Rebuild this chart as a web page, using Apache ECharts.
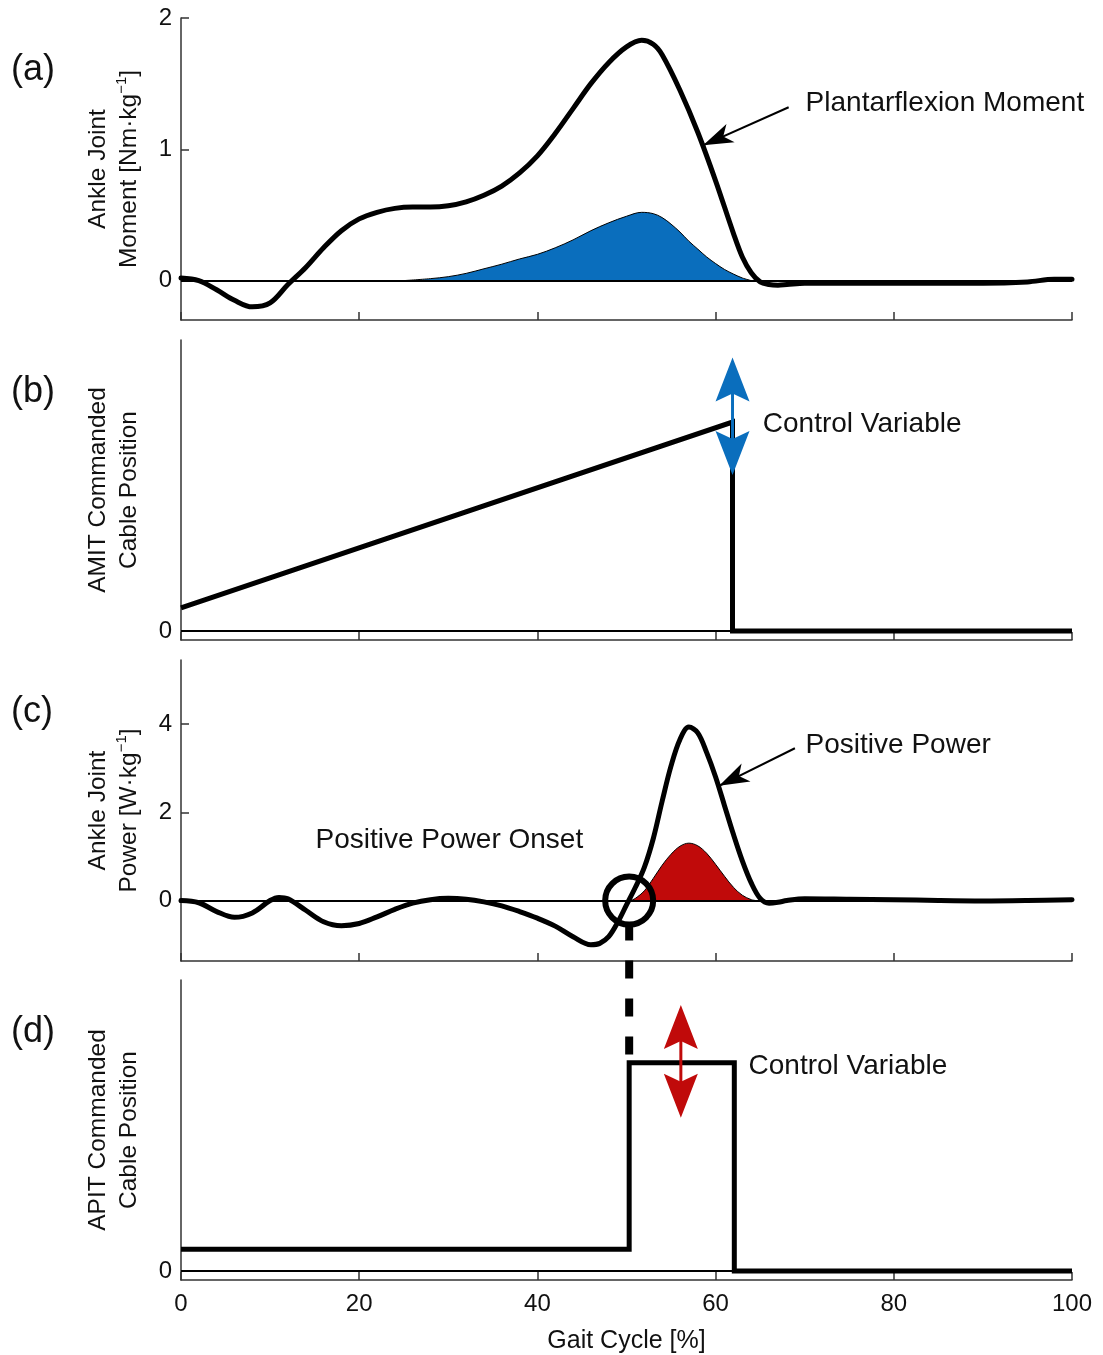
<!DOCTYPE html>
<html><head><meta charset="utf-8">
<script src="https://cdn.jsdelivr.net/npm/echarts@6/dist/echarts.min.js"></script>
<style>html,body{margin:0;padding:0;background:#fff}#c{width:1103px;height:1355px}</style>
</head><body><div id="c"></div>
<script>
// ---------- data ----------
const xTickLabels = [0, 20, 40, 60, 80, 100];
const yTicksA = [0, 1, 2];
const yTicksB = [0];
const yTicksC = [0, 2, 4];
const yTicksD = [0];

const momentPct = [0,2,4,6,8,10,12,14,16,18,20,22,24,26,28,30,32,34,36,38,40,42,44,46,48,50,51.7,53,54,56,58,60,62,63,64,65,66,67,68,70,75,80,85,90,95,98,100];
const momentVal = [0.02,0,-0.07,-0.15,-0.2,-0.17,-0.03,0.1,0.25,0.38,0.47,0.52,0.55,0.56,0.56,0.57,0.6,0.65,0.72,0.82,0.95,1.12,1.31,1.5,1.66,1.78,1.83,1.8,1.72,1.45,1.13,0.76,0.36,0.18,0.06,-0.01,-0.03,-0.035,-0.03,-0.02,-0.02,-0.02,-0.02,-0.02,-0.01,0.01,0.01];

const fillAPct = [25,28,30,32,34,36,38,40,42,44,46,48,50,51.7,53,54,55,56,57,58,59,60,61,62,63,64];
const fillAVal = [0,0.015,0.03,0.055,0.09,0.125,0.165,0.2,0.25,0.31,0.38,0.44,0.49,0.52,0.51,0.48,0.43,0.37,0.3,0.24,0.18,0.13,0.085,0.05,0.02,0];

const amitPct = [0, 61.9, 61.9, 100];
const amitVal = [0.079, 0.718, 0, 0];

const powerPct = [0,2,4,6,8,10,11,12,14,16,18,20,22,24,26,28,30,32,34,36,38,40,42,44,46,47,48,49,50,51,52,53,54,55,56,57,58,59,60,61,62,63,64,65,66,67,68,70,75,80,85,90,95,100];
const powerVal = [0,-0.05,-0.25,-0.38,-0.28,0.0,0.07,0.04,-0.22,-0.48,-0.57,-0.52,-0.37,-0.2,-0.06,0.02,0.05,0.03,-0.03,-0.12,-0.25,-0.4,-0.58,-0.82,-1.0,-0.97,-0.82,-0.5,-0.1,0.3,0.75,1.4,2.25,3.05,3.65,3.93,3.8,3.35,2.8,2.15,1.5,0.9,0.4,0.05,-0.06,-0.04,0.0,0.04,0.03,0.02,0.0,-0.01,0.0,0.02];

const fillCPct = [50.5,51,52,53,54,55,56,57,58,59,60,61,62,63,64,64.5];
const fillCVal = [0,0.05,0.22,0.5,0.8,1.05,1.23,1.3,1.24,1.07,0.82,0.55,0.3,0.12,0.02,0];

const apitPct = [0, 50.3, 50.3, 62.1, 62.1, 100];
const apitVal = [0.075, 0.075, 0.716, 0.716, 0, 0];

const panelLabels = ['(a)', '(b)', '(c)', '(d)'];
const yNames = [
  '{t|Ankle Joint}\n{t|Moment [Nm·kg}{s|−1}{t|]}',
  '{t|AMIT Commanded}\n{t|Cable Position}',
  '{t|Ankle Joint}\n{t|Power [W·kg}{s|−1}{t|]}',
  '{t|APIT Commanded}\n{t|Cable Position}'
];
const xName = 'Gait Cycle [%]';
const annA = {text: 'Plantarflexion Moment', at: [70.1, 1.35], tail: [68.2, 1.32], head: [58.6, 1.03]};
const annB = {text: 'Control Variable', at: [65.3, 0.71], arrowX: 61.9, top: 0.94, bottom: 0.536};
const annC = {text: 'Positive Power', at: [70.1, 3.52], tail: [68.9, 3.45], head: [60.4, 2.6]};
const annOnset = {text: 'Positive Power Onset', at: [15.1, 1.36], circle: [50.3, 0]};
const annD = {text: 'Control Variable', at: [63.7, 0.705], arrowX: 56.1, top: 0.914, bottom: 0.527};

// ---------- layout ----------
const zip = (a, b) => a.map((v, i) => [v, b[i]]);
const FONT = '"Liberation Sans", Arial, sans-serif';
const TXT = '#111';
const AX = '#333';
const gridTops = [18, 340, 660, 980];
const gridHeights = [302, 300, 301, 301];
const yRanges = [[-0.3, 2], [-0.031, 1], [-1.37, 5.45], [-0.031, 1]];
const yTicks = [yTicksA, yTicksB, yTicksC, yTicksD];

const grids = gridTops.map((t, i) => ({left: 181, right: 31, top: t, height: gridHeights[i]}));
const xAxes = gridTops.map((t, i) => ({
  type: 'value', gridIndex: i, min: 0, max: 100, interval: 20,
  axisLine: {show: true, onZero: false, lineStyle: {color: AX, width: 1.5}},
  axisTick: {show: true, inside: true, length: 8, lineStyle: {color: AX, width: 1.5}, customValues: xTickLabels},
  axisLabel: {show: i === 3, fontSize: 24, color: TXT, fontFamily: FONT, margin: 12, customValues: xTickLabels},
  splitLine: {show: false},
  name: i === 3 ? xName : '', nameLocation: 'middle', nameGap: 49,
  nameTextStyle: {fontSize: 25, color: TXT, fontFamily: FONT}
}));
const yAxes = gridTops.map((t, i) => ({
  type: 'value', gridIndex: i, min: yRanges[i][0], max: yRanges[i][1],
  axisLine: {show: true, onZero: false, lineStyle: {color: AX, width: 1.5}},
  axisTick: {show: true, inside: true, length: 8, lineStyle: {color: AX, width: 1.5}, customValues: yTicks[i]},
  axisLabel: {show: true, fontSize: 24, color: TXT, fontFamily: FONT, margin: 9, customValues: yTicks[i]},
  splitLine: {show: false},
  name: yNames[i], nameLocation: 'middle', nameGap: 36, nameRotate: 90,
  nameTextStyle: {
    color: TXT, fontFamily: FONT, lineHeight: 31, align: 'center',
    rich: {t: {fontSize: 24.5, color: TXT, fontFamily: FONT, lineHeight: 31},
           s: {fontSize: 15, color: TXT, fontFamily: FONT, lineHeight: 31, verticalAlign: 'top', padding: [0, 0, 14, 0]}}
  }
}));

const zeroLine = {silent: true, symbol: 'none', label: {show: false},
  lineStyle: {color: '#000', width: 2, type: 'solid'}, data: [{yAxis: 0}], animation: false};
const thick = {color: '#000', width: 5, cap: 'round', join: 'round'};
const SM = 0.35;

const series = [
  {type: 'line', xAxisIndex: 0, yAxisIndex: 0, data: zip(fillAPct, fillAVal), symbol: 'none', smooth: SM,
   lineStyle: {color: '#000', width: 1}, areaStyle: {color: '#0A6EBD', opacity: 1}, markLine: zeroLine, z: 2},
  {type: 'line', xAxisIndex: 0, yAxisIndex: 0, data: zip(momentPct, momentVal), symbol: 'none', smooth: SM,
   lineStyle: thick, z: 3},
  {type: 'line', xAxisIndex: 1, yAxisIndex: 1, data: zip(amitPct, amitVal), symbol: 'none',
   lineStyle: Object.assign({}, thick, {cap: 'butt', join: 'miter'}), markLine: zeroLine, z: 3},
  {type: 'line', xAxisIndex: 2, yAxisIndex: 2, data: zip(fillCPct, fillCVal), symbol: 'none', smooth: SM,
   lineStyle: {color: '#000', width: 1}, areaStyle: {color: '#C00A0A', opacity: 1}, markLine: zeroLine, z: 2},
  {type: 'line', xAxisIndex: 2, yAxisIndex: 2, data: zip(powerPct, powerVal), symbol: 'none', smooth: SM,
   lineStyle: thick, z: 3},
  {type: 'line', xAxisIndex: 3, yAxisIndex: 3, data: zip(apitPct, apitVal), symbol: 'none',
   lineStyle: Object.assign({}, thick, {cap: 'butt', join: 'miter'}), markLine: zeroLine, z: 3}
];

const chart = echarts.init(document.getElementById('c'), null, {renderer: 'canvas'});
chart.setOption({animation: false, backgroundColor: '#fff', grid: grids, xAxis: xAxes, yAxis: yAxes, series: series});

// ---------- annotations (positions from the axes' scales) ----------
const px = (i, p) => chart.convertToPixel({xAxisIndex: i, yAxisIndex: i}, p);
function head(tip, from, L, W, notch) {
  const dx = tip[0] - from[0], dy = tip[1] - from[1];
  const len = Math.hypot(dx, dy), ux = dx / len, uy = dy / len, nx = -uy, ny = ux;
  return [tip, [tip[0] - L * ux + W * nx, tip[1] - L * uy + W * ny],
          [tip[0] - (L - notch) * ux, tip[1] - (L - notch) * uy],
          [tip[0] - L * ux - W * nx, tip[1] - L * uy - W * ny]];
}
function singleArrow(i, a) {
  const t = px(i, a.tail), h = px(i, a.head);
  return [
    {type: 'polyline', z: 50, shape: {points: [t, h]}, style: {stroke: '#000', lineWidth: 2, fill: null}},
    {type: 'polygon', z: 51, shape: {points: head(h, t, 30, 10, 8)}, style: {fill: '#000'}}
  ];
}
function doubleArrow(i, a, color) {
  const t = px(i, [a.arrowX, a.top]), b = px(i, [a.arrowX, a.bottom]);
  return [
    {type: 'line', z: 50, shape: {x1: t[0], y1: t[1] + 20, x2: b[0], y2: b[1] - 20}, style: {stroke: color, lineWidth: 3}},
    {type: 'polygon', z: 51, shape: {points: head(t, b, 44, 17, 8)}, style: {fill: color}},
    {type: 'polygon', z: 51, shape: {points: head(b, t, 44, 17, 8)}, style: {fill: color}}
  ];
}
function label(i, a) {
  const p = px(i, a.at);
  return {type: 'text', z: 52, x: p[0], y: p[1],
    style: {text: a.text, fontSize: 28, fontFamily: FONT, fill: TXT, align: 'left', verticalAlign: 'middle'}};
}
const g = [];
panelLabels.forEach((t, i) => {
  const p = px(i, [0, yRanges[i][1]]);
  g.push({type: 'text', z: 52, x: 11, y: p[1] + 52,
    style: {text: t, fontSize: 36, fontFamily: FONT, fill: TXT, align: 'left', verticalAlign: 'middle'}});
});
g.push(label(0, annA), ...singleArrow(0, annA));
g.push(label(1, annB), ...doubleArrow(1, annB, '#0A6EBD'));
g.push(label(2, annC), ...singleArrow(2, annC));
g.push(label(2, annOnset));
const cc = px(2, annOnset.circle);
g.push({type: 'circle', z: 53, shape: {cx: cc[0], cy: cc[1], r: 24}, style: {stroke: '#000', lineWidth: 6, fill: null}});
const dEnd = px(3, [annOnset.circle[0], apitVal[2]]);
g.push({type: 'line', z: 49, shape: {x1: cc[0], y1: cc[1] + 22, x2: dEnd[0], y2: dEnd[1] - 2},
  style: {stroke: '#000', lineWidth: 8, lineDash: [18, 20]}});
g.push(label(3, annD), ...doubleArrow(3, annD, '#C00A0A'));
chart.setOption({graphic: g});
</script></body></html>
